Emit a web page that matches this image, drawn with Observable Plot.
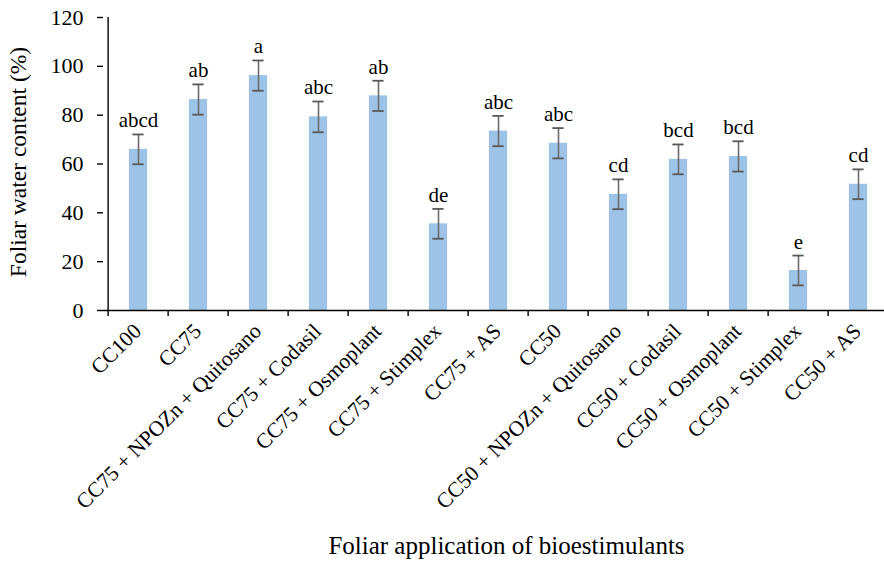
<!DOCTYPE html>
<html>
<head>
<meta charset="utf-8">
<script src="https://cdn.jsdelivr.net/npm/d3@7"></script>
<script src="https://cdn.jsdelivr.net/npm/@observablehq/plot@0.6"></script>
<style>
  html, body { margin: 0; padding: 0; background: white; }
</style>
</head>
<body>
<div id="chart"></div>
<script>
const categories = ["CC100", "CC75", "CC75 + NPOZn + Quitosano", "CC75 + Codasil", "CC75 + Osmoplant", "CC75 + Stimplex", "CC75 + AS", "CC50", "CC50 + NPOZn + Quitosano", "CC50 + Codasil", "CC50 + Osmoplant", "CC50 + Stimplex", "CC50 + AS"];
const values = [66.0, 86.4, 96.2, 79.3, 87.9, 35.5, 73.5, 68.5, 47.6, 61.9, 63.1, 16.4, 51.7];
const errors = [6.1, 6.2, 6.2, 6.3, 6.2, 6.1, 6.2, 6.2, 6.1, 6.1, 6.2, 6.1, 6.1];
const letters = ["abcd", "ab", "a", "abc", "ab", "de", "abc", "abc", "cd", "bcd", "bcd", "e", "cd"];
const yTicks = [0, 20, 40, 60, 80, 100, 120];
const yTitle = "Foliar water content (%)";
const xTitle = "Foliar application of bioestimulants";

const data = categories.map((c, i) => ({cat: c, v: values[i], e: errors[i], lab: letters[i]}));

const FONT = "Liberation Serif";
const W = 884, H = 564;
const bandRange = [103, 892.75];
const bw = (bandRange[1] - bandRange[0]) / categories.length;

const chart = Plot.plot({
  width: W,
  height: H,
  marginLeft: 103,
  marginRight: 0,
  marginTop: 17,
  marginBottom: 254,
  style: {fontFamily: FONT, fontSize: "22px", background: "white", color: "black", overflow: "visible"},
  x: {type: "band", domain: categories, range: bandRange, padding: 0, label: null},
  y: {domain: [0, 120], label: null},
  marks: [
    Plot.barY(data, {x: "cat", y: "v", fill: "#9DC3E6", insetLeft: (bw - 19) / 2, insetRight: (bw - 19) / 2}),
    Plot.ruleX(data, {x: "cat", y1: d => d.v - d.e, y2: d => d.v + d.e, stroke: "#6b6b6b", strokeWidth: 1.6}),
    Plot.tickY(data, {x: "cat", y: d => d.v + d.e, stroke: "#595959", strokeWidth: 1.8, insetLeft: (bw - 12) / 2, insetRight: (bw - 12) / 2}),
    Plot.tickY(data, {x: "cat", y: d => d.v - d.e, stroke: "#595959", strokeWidth: 1.8, insetLeft: (bw - 12) / 2, insetRight: (bw - 12) / 2}),
    Plot.text(data, {x: "cat", y: d => d.v + d.e, text: "lab", dy: -7, lineAnchor: "bottom", fontSize: 21, fontFamily: FONT, fill: "black"}),
    Plot.ruleY([0], {stroke: "black", strokeWidth: 1.4}),
    Plot.ruleX([categories[0]], {x: d => d, y1: 0, y2: 120, dx: -bw / 2, stroke: "black", strokeWidth: 1.4}),
    Plot.axisX({tickSize: 6, tickFormat: () => "", label: null, dx: -bw / 2, stroke: "black", strokeWidth: 1.4}),
    Plot.text(categories, {x: d => d, y: () => 0, text: d => d, rotate: -45, textAnchor: "end", lineAnchor: "bottom", dx: 4, dy: 22, fontSize: 21.5, fontFamily: FONT, fill: "black"}),
    Plot.axisY({ticks: yTicks, tickSize: 6, tickPadding: 14, label: null, fontSize: 22, fontFamily: FONT, stroke: "black", strokeWidth: 1.4}),
    Plot.text([yTitle], {frameAnchor: "left", textAnchor: "middle", rotate: -90, dx: -85, dy: -2, fontSize: 23.5, fontFamily: FONT, fill: "black"}),
    Plot.text([xTitle], {frameAnchor: "bottom", textAnchor: "middle", lineAnchor: "bottom", dx: 12.5, dy: 243, fontSize: 25, fontFamily: FONT, fill: "black"})
  ]
});
document.getElementById("chart").appendChild(chart);
</script>
</body>
</html>
